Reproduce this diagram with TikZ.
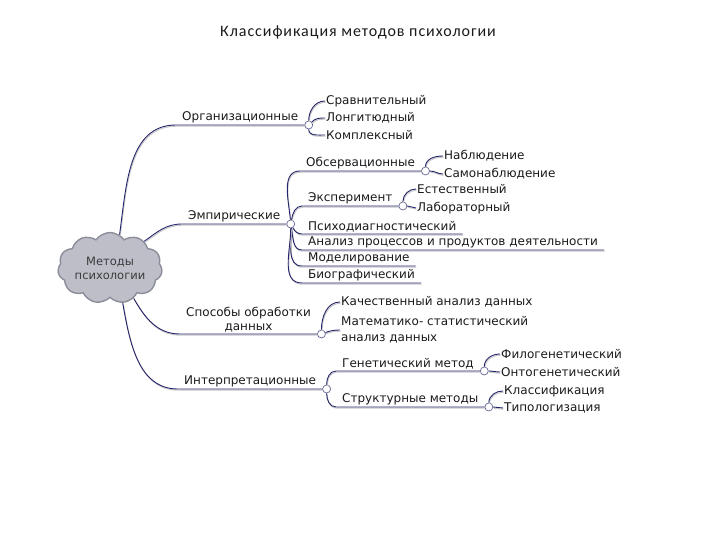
\documentclass[tikz,border=0pt]{standalone}
\usepackage{fontspec}
\setmainfont{DejaVu Sans}
\newfontfamily\titlefont[LetterSpace=6]{Carlito}
\usetikzlibrary{positioning,shapes.symbols}
\definecolor{mNavy}{HTML}{24246A}
\definecolor{mCloud}{HTML}{BDBEC8}
\definecolor{mCloudEdge}{HTML}{8B8D99}
\definecolor{mInk}{HTML}{1A1A1A}
\tikzset{
 hub/.style={cloud, cloud puffs=11, cloud puff arc=110, aspect=1.7, minimum width=90pt, minimum height=56pt, inner sep=0pt, fill=mCloud, draw=mCloudEdge, line width=1.4pt, align=center, font=\fontsize{11.5}{14}\selectfont, text=mInk!85},
 topic/.style={anchor=south west, inner xsep=6pt, inner ysep=2pt, font=\fontsize{12}{13.5}\selectfont, text=mInk},
 leaf/.style={anchor=west, inner sep=1pt, font=\fontsize{12}{16}\selectfont, text=mInk},
 knot/.style={circle, draw=mNavy!70, fill=white, inner sep=0pt, minimum size=8pt, line width=0.7pt},
 link/.style={draw=mNavy, line width=0.9pt, preaction={draw=black!22, line width=1pt, transform canvas={shift={(0.6pt,-1.2pt)}}}},
}

\begin{document}
\begin{tikzpicture}[x=1pt,y=-1pt]
\useasboundingbox (0,0) rectangle (720,540);
\node[font=\titlefont\fontsize{16}{19}\selectfont, text=mInk] (title) at (358,32) {Классификация методов психологии};
\node[hub] (root) at (110,268) {Методы\\психологии};
% first level
\node[topic] (org) at (176,125) {Организационные};
\node[knot, right=0pt of org.south east] (orgk) {};
\node[topic] (emp) at (182,224) {Эмпирические};
\node[knot, right=0pt of emp.south east] (empk) {};
\node[topic, align=center] (proc) at (180,334) {Способы обработки\\данных};
\node[knot, right=0pt of proc.south east] (prock) {};
\node[topic] (intp) at (178,389) {Интерпретационные};
\node[knot, right=0pt of intp.south east] (intpk) {};
\draw[link] (root.74) to[out=82,in=180] (org.south west) -- (orgk);
\draw[link] (root.38) to[out=35,in=180] (emp.south west) -- (empk);
\draw[link] (root.-52) to[out=-60,in=180] (proc.south west) -- (prock);
\draw[link] (root.-70) to[out=-80,in=180] (intp.south west) -- (intpk);
% organizational
\node[leaf] (cmp) at (325,101) {Сравнительный};
\node[leaf] (lon) at (325,118) {Лонгитюдный};
\node[leaf] (kom) at (325,135) {Комплексный};
\draw[link] (orgk) to[out=90,in=180] (cmp.west);
\draw[link] (orgk) to[out=45,in=180] (lon.west);
\draw[link] (orgk) to[out=-90,in=180] (kom.west);
% empirical
\node[topic] (obs) at (300,171) {Обсервационные};
\node[knot, right=0pt of obs.south east] (obsk) {};
\node[topic] (exper) at (302,206) {Эксперимент};
\node[knot, right=0pt of exper.south east] (experk) {};
\node[topic] (diag) at (302,234) {Психодиагностический};
\node[topic] (act) at (302,250) {Анализ процессов и продуктов деятельности};
\node[topic] (model) at (302,266) {Моделирование};
\node[topic] (bio) at (302,283) {Биографический};
\draw[link] (empk) to[out=95,in=180] (obs.south west) -- (obsk);
\draw[link] (empk) to[out=80,in=180] (exper.south west) -- (experk);
\draw[link] (empk) to[out=-60,in=180] (diag.south west) -- (diag.south east);
\draw[link] (empk) to[out=-80,in=180] (act.south west) -- (act.south east);
\draw[link] (empk) to[out=-88,in=180] (model.south west) -- (model.south east);
\draw[link] (empk) to[out=-90,in=180] (bio.south west) -- (bio.south east);
\node[leaf] (nab) at (443,156) {Наблюдение};
\node[leaf] (sam) at (443,174) {Самонаблюдение};
\draw[link] (obsk) to[out=90,in=180] (nab.west);
\draw[link] (obsk) to[out=0,in=180] (sam.west);
\node[leaf] (est) at (416,189) {Естественный};
\node[leaf] (lab) at (416,208) {Лабораторный};
\draw[link] (experk) to[out=90,in=180] (est.west);
\draw[link] (experk) to[out=0,in=180] (lab.west);
% processing
\node[leaf] (kach) at (340,302) {Качественный анализ данных};
\node[leaf, align=left] (mat) at (340,330) {Математико- статистический\\анализ данных};
\draw[link] (prock) to[out=90,in=180] (kach.west);
\draw[link] (prock) to[out=20,in=180] (mat.west);
% interpretational
\node[topic] (gen) at (336,371) {Генетический метод};
\node[knot, right=0pt of gen.south east] (genk) {};
\node[topic] (struc) at (336,407) {Структурные методы};
\node[knot, right=0pt of struc.south east] (struck) {};
\draw[link] (intpk) to[out=90,in=180] (gen.south west) -- (genk);
\draw[link] (intpk) to[out=-90,in=180] (struc.south west) -- (struck);
\node[leaf] (fil) at (500,354) {Филогенетический};
\node[leaf] (ont) at (500,372) {Онтогенетический};
\draw[link] (genk) to[out=90,in=180] (fil.west);
\draw[link] (genk) to[out=0,in=180] (ont.west);
\node[leaf] (kla) at (503,391) {Классификация};
\node[leaf] (tip) at (503,408) {Типологизация};
\draw[link] (struck) to[out=90,in=180] (kla.west);
\draw[link] (struck) to[out=0,in=180] (tip.west);
\end{tikzpicture}
\end{document}
